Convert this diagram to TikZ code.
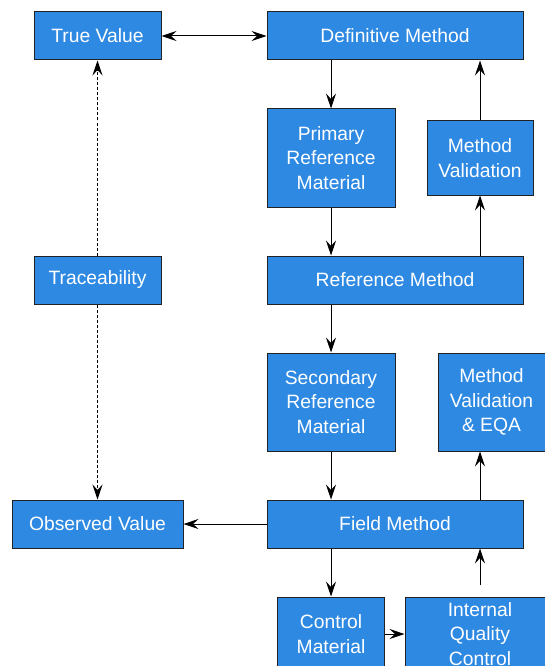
\documentclass[tikz,border=0pt]{standalone}
\usepackage{fontspec}
\setmainfont{Liberation Sans}
\usetikzlibrary{arrows.meta}
\definecolor{boxblue}{RGB}{46,137,226}
\definecolor{boxedge}{RGB}{34,34,34}
\tikzset{
  box/.style={draw=boxedge, line width=1pt, fill=boxblue, text=white, align=center,
    inner sep=0pt, font=\fontsize{19.3}{24.5}\selectfont},
  tip/.tip={Stealth[length=15pt,width=10pt,inset=5.5pt]},
  conn/.style={line width=1pt, -tip},
  dconn/.style={conn, dash pattern=on 3pt off 2pt},
}
\begin{document}
\begin{tikzpicture}[x=1pt,y=-1pt]
\useasboundingbox (0,0) rectangle (545,666);
\clip (0,0) rectangle (545,666);
\node[box, minimum width=127pt, minimum height=48pt] (tv) at (97.5,36) {True Value};
\node[box, minimum width=256pt, minimum height=48pt] (dm) at (395,36) {Definitive Method};
\node[box, minimum width=128pt, minimum height=98pt] (prm) at (331,158) {Primary\\Reference\\Material};
\node[box, minimum width=106pt, minimum height=74pt] (mv) at (480,158) {Method\\Validation};
\node[box, minimum width=127pt, minimum height=48pt, text depth=4pt] (tr) at (97.5,280) {Traceability};
\node[box, minimum width=256pt, minimum height=48pt] (rm) at (395,280) {Reference Method};
\node[box, minimum width=128pt, minimum height=98pt] (srm) at (331,402) {Secondary\\Reference\\Material};
\node[box, minimum width=107pt, minimum height=98pt] (mve) at (491.5,402) {Method\\Validation\\\& EQA};
\node[box, minimum width=171pt, minimum height=48pt] (ov) at (97.5,524) {Observed Value};
\node[box, minimum width=256pt, minimum height=48pt] (fm) at (395,524) {Field Method};
\node[box, minimum width=107pt, minimum height=74pt] (cm) at (331,634) {Control\\Material};
\node[box, minimum width=150pt, minimum height=74pt] (iqc) at (480,634) {Internal\\Quality\\Control};
\coordinate (iqcin) at (480,585);

\draw[line width=1pt, tip-tip] (tv) -- (dm);
\draw[conn] (prm.north |- dm.south) -- (prm.north);
\draw[conn] (prm.south) -- (prm.south |- rm.north);
\draw[conn] (srm.north |- rm.south) -- (srm.north);
\draw[conn] (srm.south) -- (srm.south |- fm.north);
\draw[conn] (fm) -- (ov);
\draw[conn] (cm.north |- fm.south) -- (cm.north);
\draw[conn] (cm.east) -- (iqc.west);
\draw[conn] (iqcin) -- (iqcin |- fm.south);
\draw[conn] (fm.north -| mv) -- (mve.south -| mv);
\draw[conn] (rm.north -| mv) -- (mv.south);
\draw[conn] (mv.north) -- (dm.south -| mv);
\draw[dconn] (tr) -- (tv);
\draw[dconn] (tr) -- (ov);
\end{tikzpicture}
\end{document}
